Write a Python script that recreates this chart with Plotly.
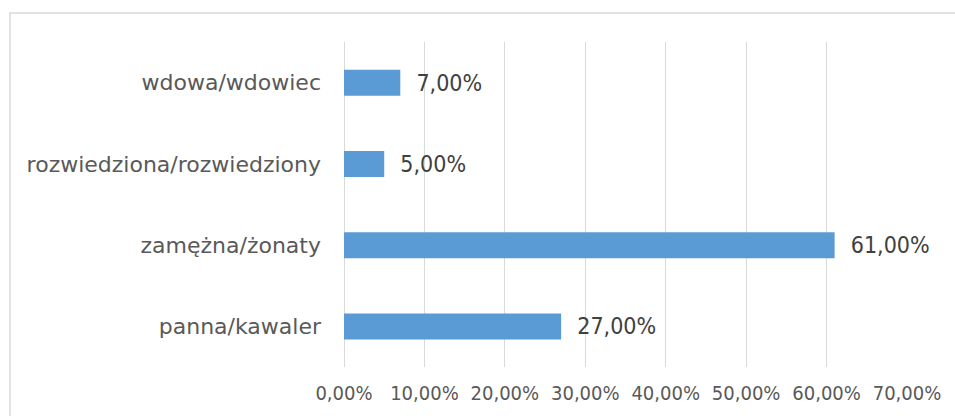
import plotly.graph_objects as go

# stan cywilny - udzial procentowy
categories = ["panna/kawaler", "zamężna/żonaty", "rozwiedziona/rozwiedziony", "wdowa/wdowiec"]
values = [0.27, 0.61, 0.05, 0.07]
tick_vals = [0, 0.1, 0.2, 0.3, 0.4, 0.5, 0.6, 0.7]

W, H = 955, 416
L, R, T, B = 344, 48, 42, 49
pw = W - L - R
ph = H - T - B

num_font = "Liberation Sans Narrow, Arial Narrow, DejaVu Sans Condensed"

fig = go.Figure()
fig.add_trace(go.Bar(
    y=categories,
    x=values,
    orientation="h",
    marker=dict(color="#5b9bd5", line=dict(width=0)),
    texttemplate="  %{x:.2%}",
    textposition="outside",
    textfont=dict(family=num_font, color="#404040", size=23),
    cliponaxis=False,
))

fig.update_layout(
    width=W, height=H,
    margin=dict(l=L, r=R, t=T, b=B),
    paper_bgcolor="white",
    plot_bgcolor="white",
    separators=", ",
    bargap=0.68,
    showlegend=False,
    font=dict(family="DejaVu Sans", size=22, color="#595959"),
    xaxis=dict(range=[0, 0.7], tickvals=tick_vals, tickformat=".2%",
               showgrid=True, gridcolor="#d9d9d9", gridwidth=1,
               zeroline=True, zerolinecolor="#d9d9d9", zerolinewidth=1,
               showline=False, ticks="", ticklabelstandoff=12,
               tickfont=dict(family=num_font, size=20, color="#595959")),
    yaxis=dict(showgrid=False, zeroline=False, showline=False, ticks="",
               ticklabelstandoff=22, tickfont=dict(size=22, color="#595959")),
)

# ramka wykresu
fig.add_shape(type="rect", xref="paper", yref="paper",
              x0=(10 - L) / pw, x1=(W + 5 - L) / pw,
              y0=(-5 - B) / ph, y1=(H - 13 - B) / ph,
              line=dict(color="#d9d9d9", width=1.5))

fig.write_html("out.html", config={"displayModeBar": False},
               post_script="document.body.style.margin='0px';")
